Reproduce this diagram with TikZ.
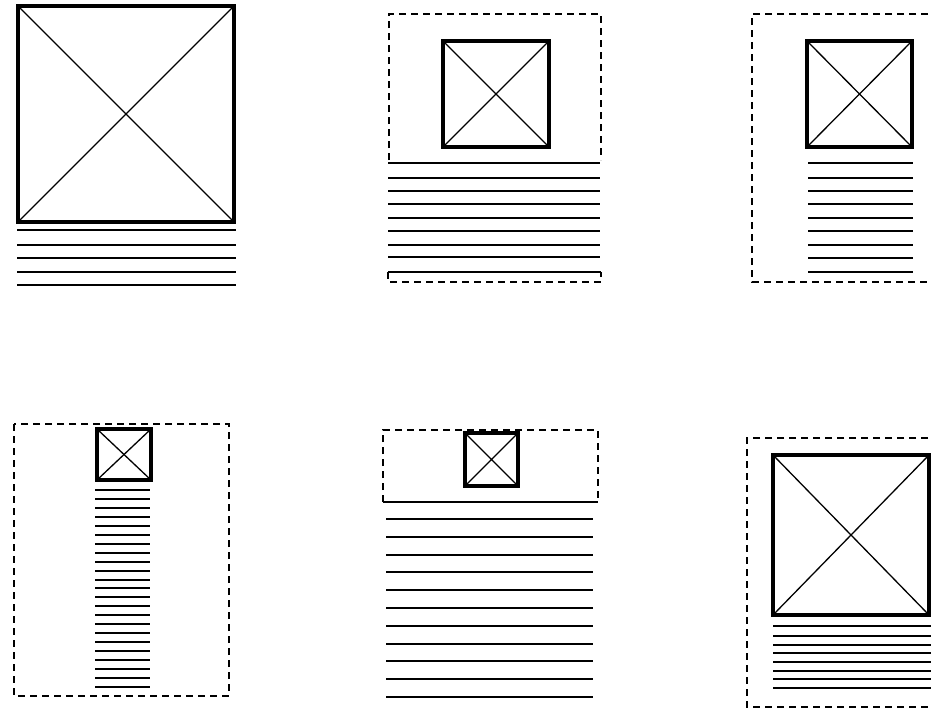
\documentclass[tikz,border=0pt]{standalone}
\newcommand\imgph[4]{%
  \draw[imgbox] (#1,#2) rectangle (#3,#4);
  \draw[crossline] (#1,#2) -- (#3,#4) (#1,#4) -- (#3,#2);}
\begin{document}
\begin{tikzpicture}[x=1pt,y=-1pt,
  imgbox/.style={line width=3.2pt},
  crossline/.style={line width=1.3pt},
  textline/.style={line width=2pt},
  frame/.style={line width=1.5pt, dash pattern=on 7pt off 5pt},
  frameedge/.style={line width=1.6pt}]
\useasboundingbox (0,0) rectangle (931,713);
\clip (0,0) rectangle (931,713);
\fill[white] (0,0) rectangle (931,713);
% Panel 1
\imgph{18}{6}{234}{222}
\foreach \y in {230,245,258,272,285} \draw[textline] (17,\y) -- (236,\y);
% Panel 2
\draw[frame] (389,160) -- (389,14) -- (601,14) -- (601,160);
\imgph{443}{41}{549}{147}
\foreach \y in {163,178,191,204,218,231,245,257} \draw[textline] (388,\y) -- (600,\y);
\draw[frameedge] (388,272) -- (601,272);
\draw[frame] (388,272) -- (388,282) -- (601,282) -- (601,272);
% Panel 3
\draw[frame] (940,14) -- (752,14) -- (752,282) -- (940,282);
\imgph{807}{41}{912}{147}
\foreach \y in {163,178,191,204,218,231,245,258,272} \draw[textline] (808,\y) -- (913,\y);
% Panel 4
\draw[frame] (14,424) rectangle (229,696);
\imgph{97}{429}{151}{480}
\foreach \i in {0,...,22} \draw[textline] (95,{490+\i*8.95}) -- (150,{490+\i*8.95});
% Panel 5
\draw[frame] (383,502) -- (383,430) -- (598,430) -- (598,502);
\draw[frameedge] (383,502) -- (598,502);
\imgph{465}{433}{518}{486}
\foreach \i in {0,...,10} \draw[textline] (386,{519+\i*17.8}) -- (593,{519+\i*17.8});
% Panel 6
\draw[frame] (940,438) -- (747,438) -- (747,707) -- (940,707);
\imgph{773}{455}{929}{615}
\foreach \y in {626,636,645,653,662,671,679,688} \draw[textline] (773,\y) -- (931,\y);
\end{tikzpicture}
\end{document}
